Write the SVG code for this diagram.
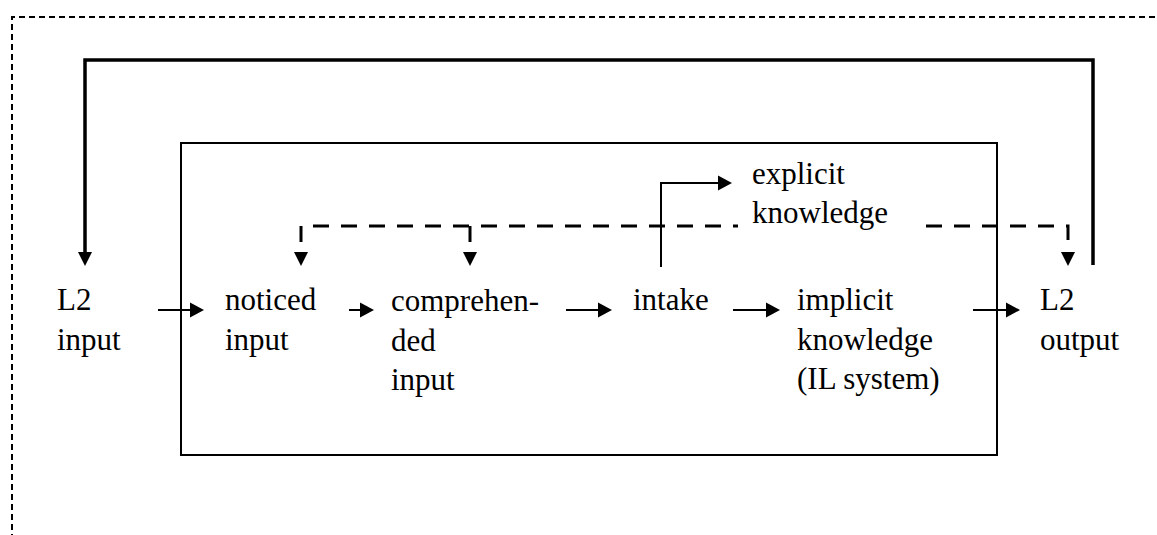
<svg xmlns="http://www.w3.org/2000/svg" width="1157" height="535" viewBox="0 0 1157 535">
<defs>
<path id="down" d="M-7,-14 L7,-14 L0,0 z" fill="#000"/>
<path id="right" d="M-14,-7.5 L0,0 L-14,7.5 z" fill="#000"/>
</defs>
<rect width="1157" height="535" fill="#fff"/>
<g id="frame" fill="none" stroke="#000">
<path stroke-width="2" stroke-dasharray="6 4" d="M12,540 V17 H1160"/>
<rect stroke-width="2" x="181" y="143" width="816" height="312"/>
</g>
<g id="connectors" fill="none" stroke="#000">
<path stroke-width="3.5" d="M1093,265 V60 H85 V252"/>
<g stroke-width="2">
<line x1="158" y1="310" x2="190" y2="310"/>
<line x1="349" y1="310" x2="360" y2="310"/>
<line x1="566" y1="310" x2="598" y2="310"/>
<line x1="733" y1="310" x2="766" y2="310"/>
<line x1="973" y1="310" x2="1006" y2="310"/>
<path d="M661,267 V183 H718"/>
</g>
<g stroke-width="3" stroke-dasharray="16 12">
<path d="M301,242 V226 H738"/>
<path d="M470,242 V226"/>
<path d="M926,226 H1068 V242"/>
</g>
<g stroke="none">
<use href="#down" x="85" y="266"/>
<use href="#down" x="301" y="266"/>
<use href="#down" x="470" y="266"/>
<use href="#down" x="1068" y="266"/>
<use href="#right" x="204" y="310"/>
<use href="#right" x="374" y="310"/>
<use href="#right" x="612" y="310"/>
<use href="#right" x="780" y="310"/>
<use href="#right" x="1020" y="310"/>
<use href="#right" x="732" y="183"/>
</g>
</g>
<g id="l2input"><text x="57" y="310" font-family="Liberation Serif" font-size="31">L2</text><text x="57" y="350" font-family="Liberation Serif" font-size="31">input</text></g>
<g id="noticed"><text x="225" y="310" font-family="Liberation Serif" font-size="31">noticed</text><text x="225" y="350" font-family="Liberation Serif" font-size="31">input</text></g>
<g id="comprehended"><text x="391" y="311" font-family="Liberation Serif" font-size="31">comprehen-</text><text x="391" y="351" font-family="Liberation Serif" font-size="31">ded</text><text x="391" y="390" font-family="Liberation Serif" font-size="31">input</text></g>
<g id="intake"><text x="633" y="310" font-family="Liberation Serif" font-size="31">intake</text></g>
<g id="implicit"><text x="797" y="310" font-family="Liberation Serif" font-size="31">implicit</text><text x="797" y="350" font-family="Liberation Serif" font-size="31">knowledge</text><text x="797" y="389" font-family="Liberation Serif" font-size="31">(IL system)</text></g>
<g id="explicit"><text x="752" y="184" font-family="Liberation Serif" font-size="31">explicit</text><text x="752" y="223" font-family="Liberation Serif" font-size="31">knowledge</text></g>
<g id="l2output"><text x="1040" y="310" font-family="Liberation Serif" font-size="31">L2</text><text x="1040" y="350" font-family="Liberation Serif" font-size="31">output</text></g>
</svg>
